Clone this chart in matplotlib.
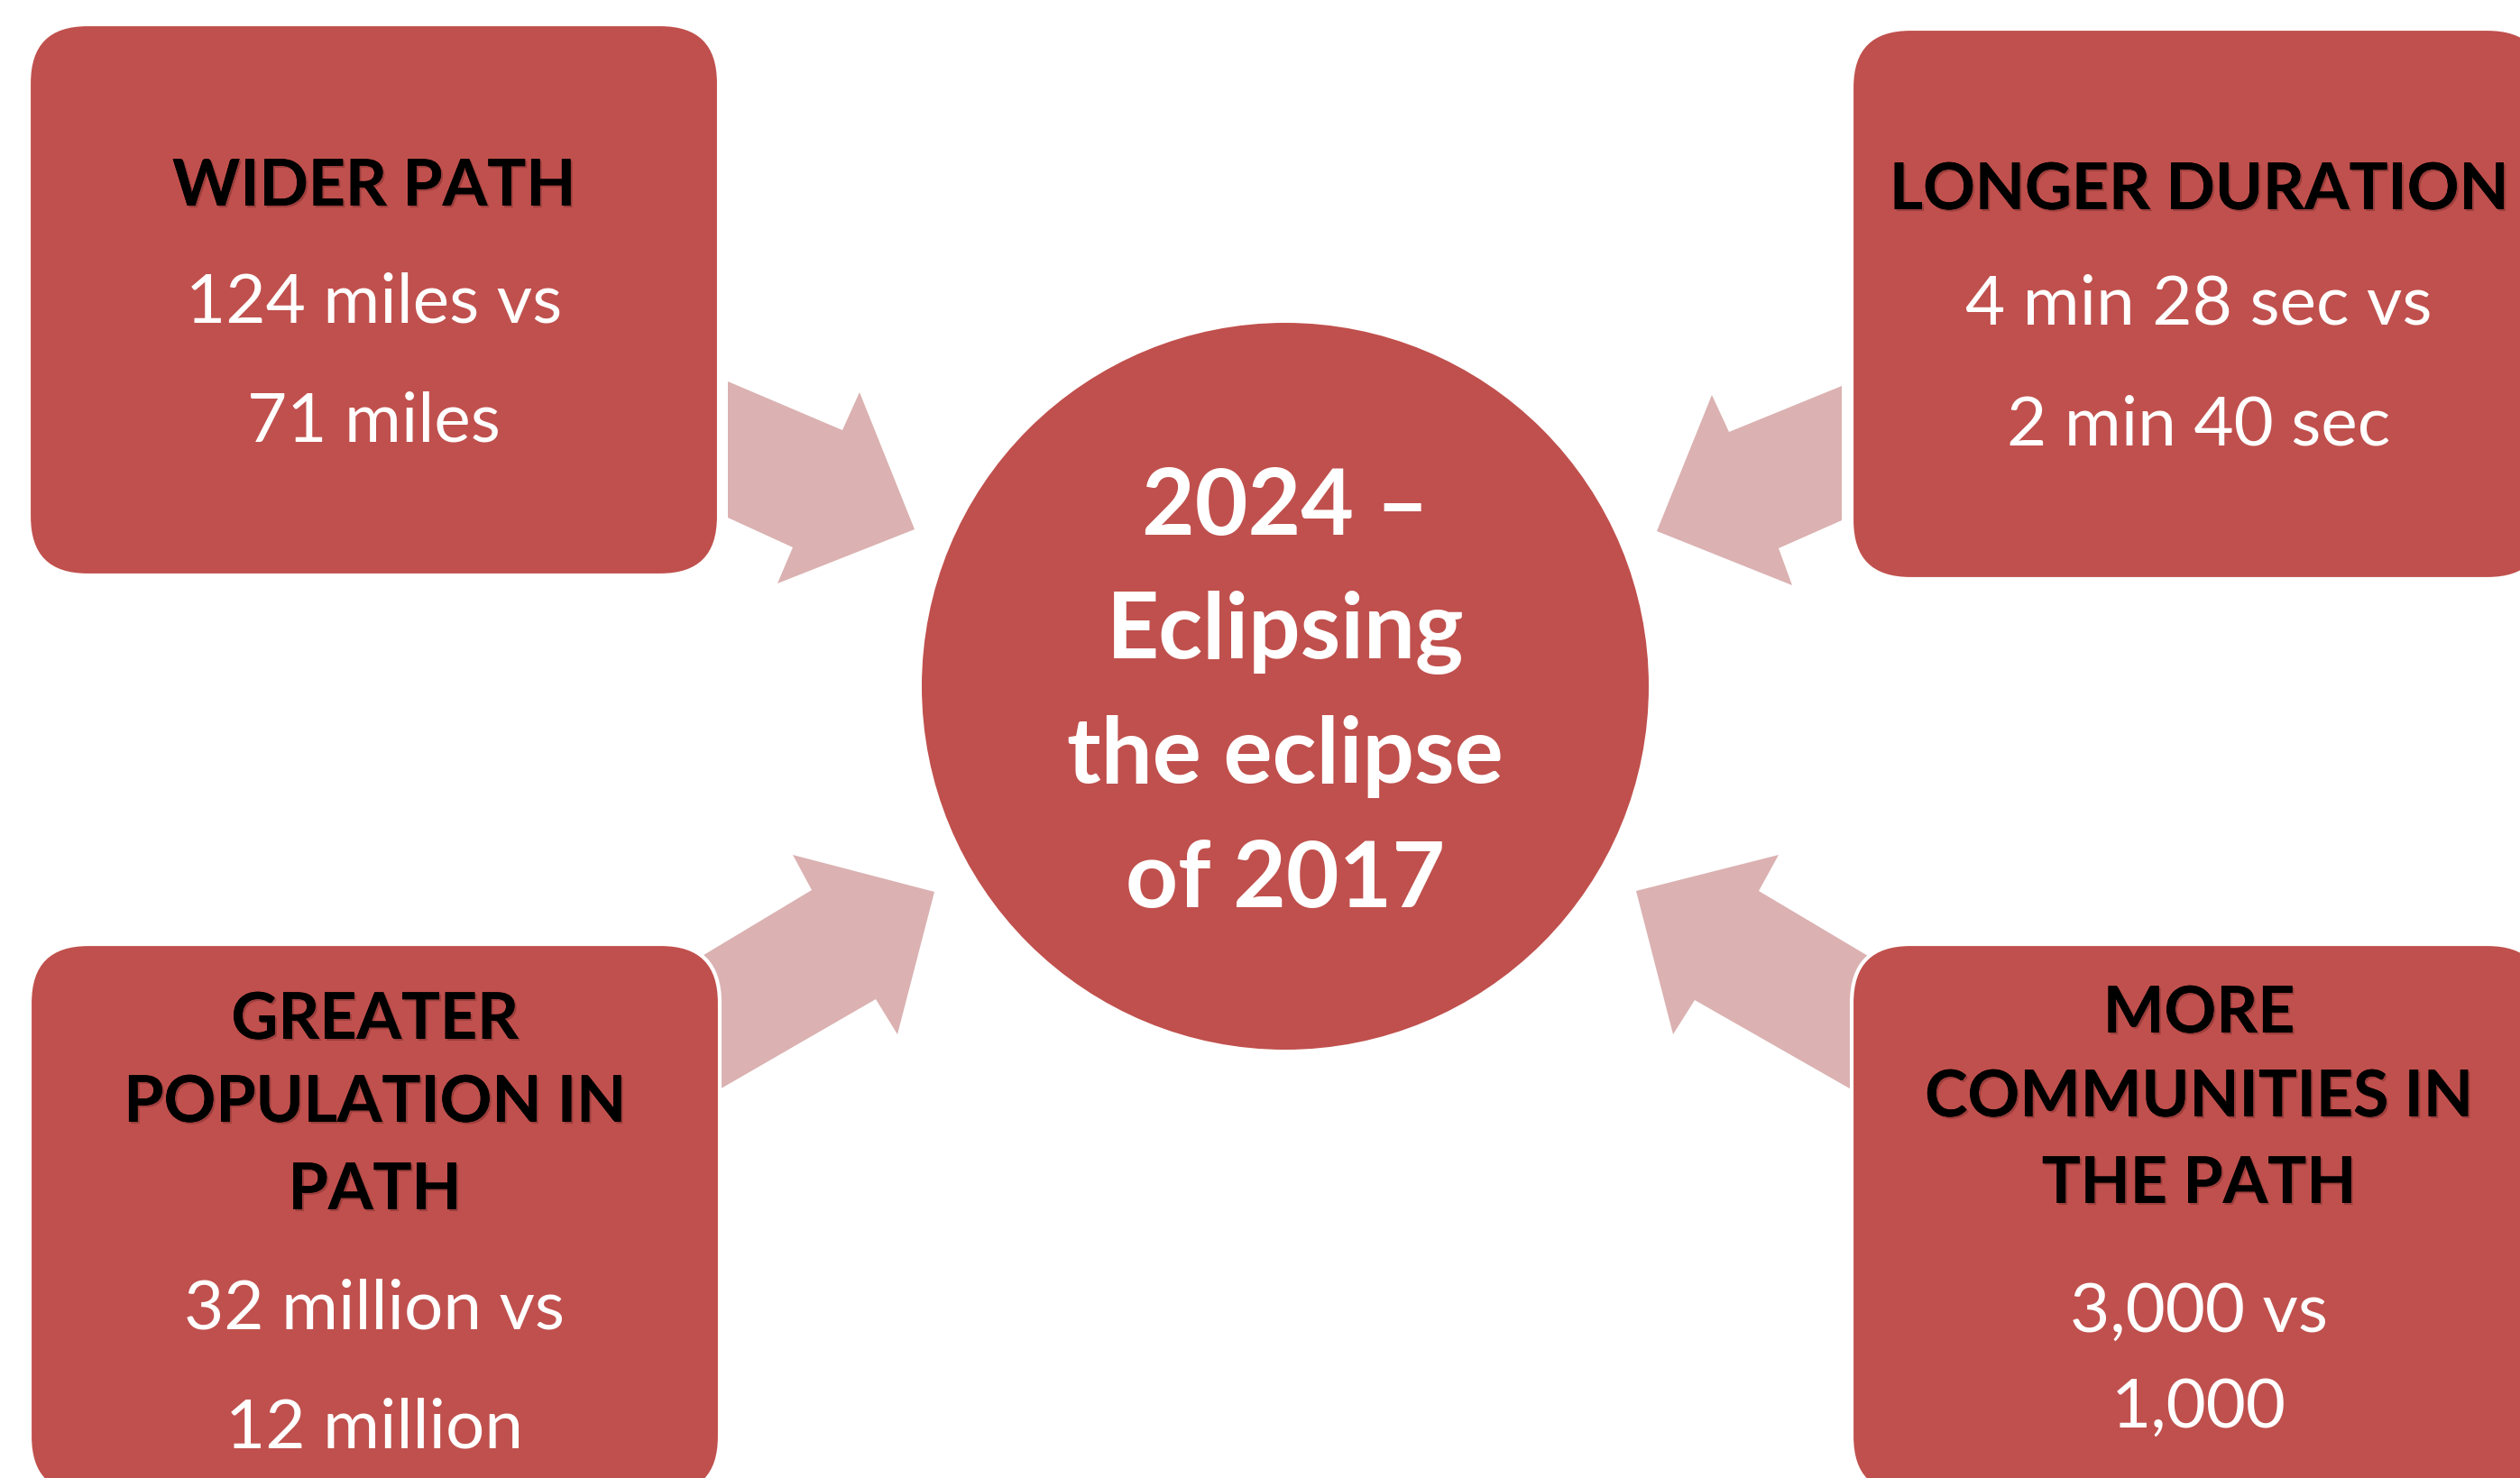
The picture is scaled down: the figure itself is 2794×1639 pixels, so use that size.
import matplotlib
matplotlib.use("Agg")
import matplotlib.pyplot as plt
from matplotlib.patches import FancyBboxPatch, Circle, Polygon
import matplotlib.patheffects as pe

plt.rcParams['font.family'] = ['Lato', 'DejaVu Sans']

# texts of the diagram
center_lines = ['2024 \u2013', 'Eclipsing', 'the eclipse', 'of 2017']

box_titles = [
    ['WIDER PATH'],
    ['LONGER DURATION'],
    ['GREATER', 'POPULATION IN', 'PATH'],
    ['MORE', 'COMMUNITIES IN', 'THE PATH'],
]
box_values = [
    ['124 miles vs', '71 miles'],
    ['4 min 28 sec vs', '2 min 40 sec'],
    ['32 million vs', '12 million'],
    ['3,000 vs', '1,000'],
]

# layout (pixels, y down)
W, H = 2794, 1639
box_rects = [(32, 27, 765, 611), (2053, 32, 770, 610),
             (33, 1047, 765, 611), (2053, 1047, 770, 611)]
title_base = [[228], [232], [1152, 1244, 1341], [1145, 1238, 1334]]
value_base = [[357, 489], [359, 493], [1473, 1605], [1477, 1583]]
center_xy = (1425, 761)
center_r = 403
center_base = [593, 730, 868, 1006]

arrows = [
    [(807, 423), (934, 477), (953, 435), (1014, 587), (862, 647), (879, 607), (807, 574)],
    [(2042, 428), (1917, 479), (1898, 438), (1837, 589), (1987, 649), (1972, 608), (2042, 577)],
    [(742, 1082), (900, 987), (879, 948), (1036, 989), (995, 1147), (971, 1108), (758, 1231)],
    [(2108, 1082), (1950, 988), (1972, 948), (1814, 988), (1855, 1147), (1879, 1109), (2091, 1230)],
]

red = '#C0504D'
pink = '#DBB1B1'

fig = plt.figure(figsize=(W / 100, H / 100), dpi=100, facecolor='white')
ax = fig.add_axes([0, 0, 1, 1])
ax.set_xlim(0, W)
ax.set_ylim(H, 0)
ax.axis('off')

for pts in arrows:
    ax.add_patch(Polygon(pts, closed=True, facecolor=pink, edgecolor='none', zorder=1))

for (x, y, w, h) in box_rects:
    ax.add_patch(FancyBboxPatch((x, y), w, h, boxstyle='round,pad=0,rounding_size=65',
                                facecolor=red, edgecolor='white', linewidth=3, zorder=2))

ax.add_patch(Circle(center_xy, center_r, facecolor=red, edgecolor='none', zorder=2))

shadow = [pe.withSimplePatchShadow(offset=(1.5, -1.5), shadow_rgbFace='#4a1515', alpha=0.3), pe.Normal()]

for i, (x, y, w, h) in enumerate(box_rects):
    cx = x + w / 2
    for line, yb in zip(box_titles[i], title_base[i]):
        ax.text(cx, yb, line, ha='center', va='baseline', fontsize=51.5, fontweight='bold',
                color='black', zorder=3, path_effects=shadow)
    for line, yb in zip(box_values[i], value_base[i]):
        ax.text(cx, yb, line, ha='center', va='baseline', fontsize=55,
                color='white', zorder=3)

for line, yb in zip(center_lines, center_base):
    ax.text(center_xy[0], yb, line, ha='center', va='baseline', fontsize=73, fontweight='bold',
            color='white', zorder=3)

fig.savefig('out.png', dpi=100, facecolor='white')
